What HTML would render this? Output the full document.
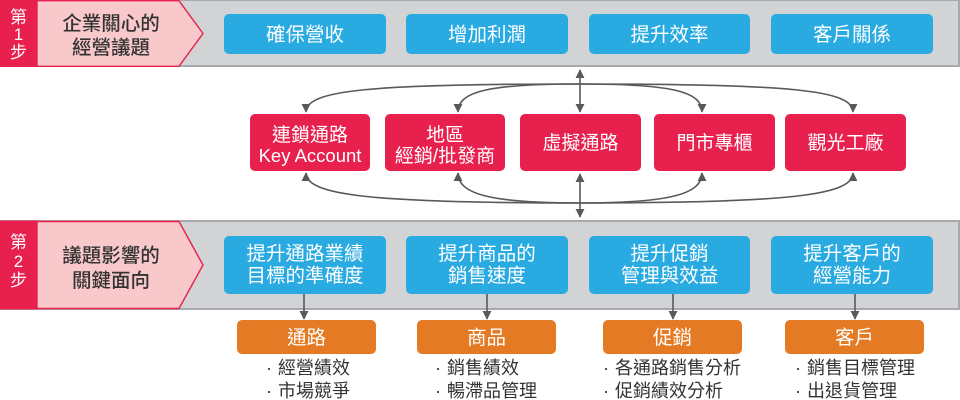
<!DOCTYPE html>
<html><head><meta charset="utf-8">
<style>
html,body{margin:0;padding:0;background:#fff;}
svg{display:block;}
text{font-family:"Liberation Sans","Noto Sans CJK TC",sans-serif;}
.cjk{font-family:"Noto Sans CJK TC","Liberation Sans",sans-serif;}
</style></head>
<body>
<svg width="960" height="400" viewBox="0 0 960 400" xmlns="http://www.w3.org/2000/svg">
<defs>
<marker id="ah" viewBox="0 0 10 10" refX="9" refY="5" markerWidth="9" markerHeight="9" markerUnits="userSpaceOnUse" orient="auto">
<path d="M0,0 L10,5 L0,10 Z" fill="#58595b"/>
</marker>
<marker id="ahs" viewBox="0 0 10 10" refX="1" refY="5" markerWidth="9" markerHeight="9" markerUnits="userSpaceOnUse" orient="auto">
<path d="M10,0 L0,5 L10,10 Z" fill="#58595b"/>
</marker>
</defs>

<!-- Band 1 -->
<rect x="0" y="0" width="960" height="67" fill="#d1d3d4"/>
<line x1="0" y1="0.5" x2="960" y2="0.5" stroke="#a7a9ac" stroke-width="1"/>
<line x1="0" y1="66" x2="960" y2="66" stroke="#a7a9ac" stroke-width="2"/>
<line x1="959" y1="0" x2="959" y2="67" stroke="#a7a9ac" stroke-width="2"/>
<polygon points="37,0.7 179,0.7 203,33.5 179,66.3 37,66.3" fill="#f8c8cb" stroke="#e8204e" stroke-width="1.4"/>
<rect x="0" y="0" width="37" height="67" fill="#e8204e"/>
<g class="cjk" fill="#fff" font-size="17" text-anchor="middle">
<text x="18.5" y="23">第</text>
<text x="18.5" y="40" font-family="Liberation Sans">1</text>
<text x="18.5" y="58">步</text>
</g>
<g class="cjk" fill="#333" font-size="19.5" text-anchor="middle" font-weight="500">
<text x="111" y="30">企業關心的</text>
<text x="111" y="54">經營議題</text>
</g>

<g fill="#29abe2">
<rect x="224" y="14" width="162" height="40" rx="5"/>
<rect x="406" y="14" width="162" height="40" rx="5"/>
<rect x="589" y="14" width="161" height="40" rx="5"/>
<rect x="771" y="14" width="162" height="40" rx="5"/>
</g>
<g class="cjk" fill="#fff" font-size="19.5" text-anchor="middle">
<text x="305" y="41">確保營收</text>
<text x="487" y="41">增加利潤</text>
<text x="669.5" y="41">提升效率</text>
<text x="852" y="41">客戶關係</text>
</g>

<!-- connectors -->
<g fill="none" stroke="#58595b" stroke-width="1.6">
<line x1="580" y1="70" x2="580" y2="112" marker-start="url(#ahs)" marker-end="url(#ah)"/>
<path d="M580,84 C370,84 306,90 306,112" marker-end="url(#ah)"/>
<path d="M580,84 C490,84 458,91 458,112" marker-end="url(#ah)"/>
<path d="M580,84 C670,84 702,91 702,112" marker-end="url(#ah)"/>
<path d="M580,84 C790,84 853,90 853,112" marker-end="url(#ah)"/>

<line x1="580" y1="174" x2="580" y2="217" marker-start="url(#ahs)" marker-end="url(#ah)"/>
<path d="M580,203 C370,203 306,195 306,173" marker-end="url(#ah)"/>
<path d="M580,203 C490,203 458,194 458,173" marker-end="url(#ah)"/>
<path d="M580,203 C670,203 702,194 702,173" marker-end="url(#ah)"/>
<path d="M580,203 C790,203 853,195 853,173" marker-end="url(#ah)"/>
</g>

<!-- red boxes -->
<g fill="#e8204e">
<rect x="250" y="114" width="120" height="57" rx="5"/>
<rect x="385" y="114" width="120" height="57" rx="5"/>
<rect x="520" y="114" width="121" height="57" rx="5"/>
<rect x="654" y="114" width="121" height="57" rx="5"/>
<rect x="785" y="114" width="121" height="57" rx="5"/>
</g>
<g class="cjk" fill="#fff" font-size="19" text-anchor="middle">
<text x="310" y="141">連鎖通路</text>
<text x="310" y="162" font-family="Liberation Sans" font-size="18.5">Key Account</text>
<text x="445" y="141">地區</text>
<text x="445" y="162">經銷/批發商</text>
<text x="580.5" y="149">虛擬通路</text>
<text x="714.5" y="149">門市專櫃</text>
<text x="845.5" y="149">觀光工廠</text>
</g>

<!-- Band 2 -->
<rect x="0" y="220" width="960" height="90" fill="#d1d3d4"/>
<line x1="0" y1="221" x2="960" y2="221" stroke="#a7a9ac" stroke-width="2"/>
<line x1="0" y1="309" x2="960" y2="309" stroke="#a7a9ac" stroke-width="2"/>
<line x1="959" y1="220" x2="959" y2="310" stroke="#a7a9ac" stroke-width="2"/>
<polygon points="37,221.5 179,221.5 203,265 179,308.5 37,308.5" fill="#f8c8cb" stroke="#e8204e" stroke-width="1.4"/>
<rect x="0" y="220.5" width="37" height="89" fill="#e8204e"/>
<g class="cjk" fill="#fff" font-size="17" text-anchor="middle">
<text x="18.5" y="248">第</text>
<text x="18.5" y="267" font-family="Liberation Sans">2</text>
<text x="18.5" y="286">步</text>
</g>
<g class="cjk" fill="#333" font-size="19.5" text-anchor="middle" font-weight="500">
<text x="111" y="262">議題影響的</text>
<text x="111" y="287">關鍵面向</text>
</g>

<g fill="#29abe2">
<rect x="224" y="236" width="162" height="58" rx="5"/>
<rect x="406" y="236" width="162" height="58" rx="5"/>
<rect x="589" y="236" width="161" height="58" rx="5"/>
<rect x="771" y="236" width="162" height="58" rx="5"/>
</g>
<g class="cjk" fill="#fff" font-size="19.5" text-anchor="middle">
<text x="305" y="260">提升通路業績</text>
<text x="305" y="282">目標的準確度</text>
<text x="487" y="260">提升商品的</text>
<text x="487" y="282">銷售速度</text>
<text x="669.5" y="260">提升促銷</text>
<text x="669.5" y="282">管理與效益</text>
<text x="852" y="260">提升客戶的</text>
<text x="852" y="282">經營能力</text>
</g>

<g stroke="#58595b" stroke-width="1.6">
<line x1="304" y1="294" x2="304" y2="319" marker-end="url(#ah)"/>
<line x1="487" y1="294" x2="487" y2="319" marker-end="url(#ah)"/>
<line x1="673" y1="294" x2="673" y2="319" marker-end="url(#ah)"/>
<line x1="855" y1="294" x2="855" y2="319" marker-end="url(#ah)"/>
</g>

<!-- orange boxes -->
<g fill="#e57a24">
<rect x="237" y="320" width="139" height="34" rx="5"/>
<rect x="417" y="320" width="139" height="34" rx="5"/>
<rect x="603" y="320" width="139" height="34" rx="5"/>
<rect x="785" y="320" width="139" height="34" rx="5"/>
</g>
<g class="cjk" fill="#fff" font-size="19.5" text-anchor="middle">
<text x="306.5" y="344">通路</text>
<text x="486.5" y="344">商品</text>
<text x="672.5" y="344">促銷</text>
<text x="854.5" y="344">客戶</text>
</g>

<!-- bullets -->
<g class="cjk" fill="#333" font-size="18">
<text x="266" y="374">·</text><text x="278" y="374">經營績效</text>
<text x="266" y="397">·</text><text x="278" y="397">市場競爭</text>
<text x="435" y="374">·</text><text x="447" y="374">銷售績效</text>
<text x="435" y="397">·</text><text x="447" y="397">暢滯品管理</text>
<text x="603" y="374">·</text><text x="615" y="374">各通路銷售分析</text>
<text x="603" y="397">·</text><text x="615" y="397">促銷績效分析</text>
<text x="795" y="374">·</text><text x="807" y="374">銷售目標管理</text>
<text x="795" y="397">·</text><text x="807" y="397">出退貨管理</text>
</g>
</svg>
</body></html>
